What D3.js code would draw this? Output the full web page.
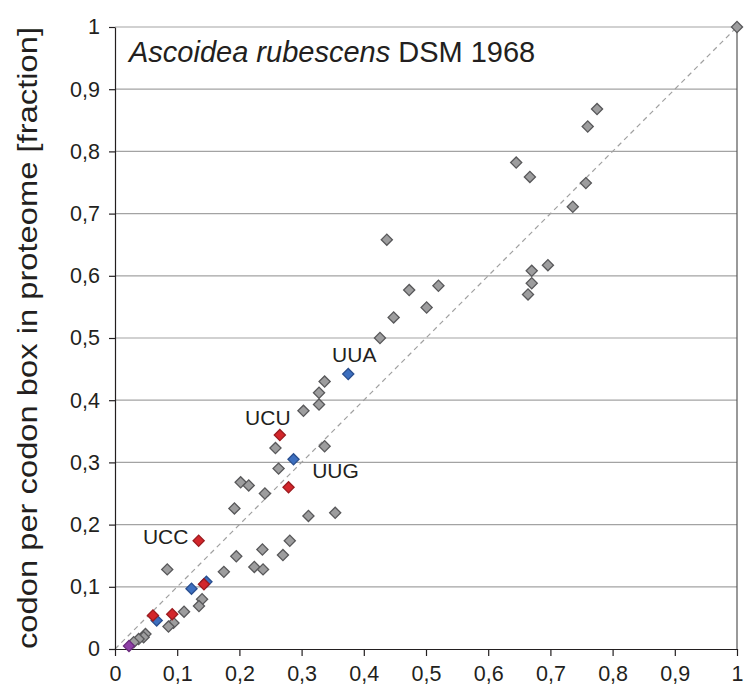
<!DOCTYPE html>
<meta charset="utf-8">
<script src="https://d3js.org/d3.v7.min.js"></script>
<style>
body { margin: 0; background: #fff; }
svg text { font-family: "Liberation Sans", Arial, sans-serif; fill: #231f20; }
.axis path, .axis line { stroke: #231f20; stroke-width: 1.2px; }
.axis text { font-size: 21.5px; }
.grid line { stroke: #a3a3a3; stroke-width: 1.2px; }
.diag { stroke: #a0a0a0; stroke-width: 1.2px; stroke-dasharray: 5 4; fill: none; }
.codonLabel { font-size: 21px; }
</style>
<body>
<script>

// tick labels (decimal comma as in the original)
var tickValues = [0, 0.1, 0.2, 0.3, 0.4, 0.5, 0.6, 0.7, 0.8, 0.9, 1];
var tickLabels = ['0', '0,1', '0,2', '0,3', '0,4', '0,5', '0,6', '0,7', '0,8', '0,9', '1'];

// grey codons: x = fraction in genome, y = fraction in proteome
var greyX = [0.775, 0.760, 0.645, 0.667, 0.757, 0.736, 0.696, 0.670, 0.670, 0.664,
             0.437, 0.473, 0.520, 0.501, 0.448, 0.426, 0.337, 0.328, 0.328, 0.303,
             0.258, 0.337, 0.263, 0.202, 0.215, 0.241, 0.192, 0.354, 0.311, 0.281,
             0.237, 0.195, 0.270, 0.084, 0.175, 0.224, 0.238, 0.140, 0.135, 0.111,
             0.094, 0.086, 0.049, 0.046, 0.038, 0.030, 1.000];
var greyY = [0.868, 0.840, 0.782, 0.759, 0.749, 0.711, 0.617, 0.608, 0.588, 0.570,
             0.658, 0.577, 0.584, 0.549, 0.533, 0.500, 0.430, 0.412, 0.393, 0.383,
             0.323, 0.326, 0.290, 0.268, 0.263, 0.250, 0.226, 0.219, 0.214, 0.174,
             0.160, 0.149, 0.151, 0.128, 0.124, 0.132, 0.128, 0.080, 0.069, 0.060,
             0.042, 0.036, 0.024, 0.019, 0.016, 0.011, 1.000];

// blue codons
var blueX = [0.375, 0.287, 0.123, 0.147, 0.067];
var blueY = [0.442, 0.305, 0.097, 0.108, 0.046];
var blueNames = ['UUA', 'UUG', '', '', ''];

// red codons
var redX = [0.265, 0.279, 0.1345, 0.143, 0.092, 0.061];
var redY = [0.344, 0.260, 0.174, 0.104, 0.056, 0.054];
var redNames = ['UCU', '', 'UCC', '', '', ''];

// purple codon
var purpleX = [0.0225];
var purpleY = [0.005];

var margin = {top: 27, right: 7, bottom: 45, left: 115};
var width = 744 - margin.left - margin.right,
    height = 694 - margin.top - margin.bottom;

var svg = d3.select('body').append('svg')
    .attr('width', 744)
    .attr('height', 694)
  .append('g')
    .attr('transform', 'translate(' + margin.left + ',' + margin.top + ')');

var xScale = d3.scaleLinear().domain([0, 1]).range([0, width]);
var yScale = d3.scaleLinear().domain([0, 1]).range([height, 0]);

function fmt(d) { return tickLabels[tickValues.indexOf(d)]; }

// horizontal grid
svg.append('g')
    .attr('class', 'grid')
  .selectAll('line')
  .data(tickValues.slice(1))
  .enter().append('line')
    .attr('x1', 0)
    .attr('x2', width)
    .attr('y1', function(d) { return yScale(d); })
    .attr('y2', function(d) { return yScale(d); });

// right frame line
svg.append('line')
    .attr('x1', width).attr('x2', width)
    .attr('y1', 0).attr('y2', height)
    .style('stroke', '#555')
    .style('stroke-width', 1.2);

// 1:1 diagonal
svg.append('line')
    .attr('class', 'diag')
    .attr('x1', xScale(0)).attr('y1', yScale(0))
    .attr('x2', xScale(1)).attr('y2', yScale(1));

var xAxis = d3.axisBottom(xScale)
    .tickValues(tickValues)
    .tickFormat(fmt)
    .tickSizeInner(7)
    .tickSizeOuter(0)
    .tickPadding(10);

var yAxis = d3.axisLeft(yScale)
    .tickValues(tickValues)
    .tickFormat(fmt)
    .tickSizeInner(6)
    .tickSizeOuter(0)
    .tickPadding(9);

svg.append('g')
    .attr('class', 'x axis')
    .attr('transform', 'translate(0,' + height + ')')
    .call(xAxis);

svg.append('g')
    .attr('class', 'y axis')
    .call(yAxis);

svg.selectAll('.axis text').style('fill', '#231f20');

// axis title
svg.append('text')
    .attr('transform', 'translate(' + (-margin.left + 37) + ',' + (height / 2) + ') rotate(-90)')
    .attr('text-anchor', 'middle')
    .attr('textLength', 622)
    .attr('lengthAdjust', 'spacingAndGlyphs')
    .style('font-size', '28px')
    .text('codon per codon box in proteome [fraction]');

// chart title
var title = svg.append('text')
    .attr('x', 14)
    .attr('y', 35)
    .style('font-size', '29px');
title.append('tspan').style('font-style', 'italic').text('Ascoidea rubescens');
title.append('tspan').text(' DSM 1968');

var diamond = d3.symbol().type(d3.symbolSquare).size(62);

function drawPoints(xs, ys, fill, stroke) {
  svg.append('g')
    .selectAll('path')
    .data(xs.map(function(x, i) { return {x: x, y: ys[i]}; }))
    .enter().append('path')
      .attr('d', diamond)
      .attr('transform', function(d) {
        return 'translate(' + xScale(d.x) + ',' + yScale(d.y) + ') rotate(45)';
      })
      .style('fill', fill)
      .style('stroke', stroke)
      .style('stroke-width', 1.3);
}

drawPoints(greyX, greyY, '#9d9d9e', '#58585a');
drawPoints(blueX, blueY, '#3d6fbf', '#2a4f8f');
drawPoints(redX, redY, '#d3262b', '#9b1b1f');
drawPoints(purpleX, purpleY, '#8e3fa6', '#6a2c7d');

// codon labels, offset from their point
var labelOffset = {UUA: [6, -12], UUG: [42, 19], UCU: [-12, -10], UCC: [-33, 3]};

function drawLabels(xs, ys, names) {
  names.forEach(function(n, i) {
    if (!n) return;
    svg.append('text')
      .attr('class', 'codonLabel')
      .attr('text-anchor', 'middle')
      .attr('x', xScale(xs[i]) + labelOffset[n][0])
      .attr('y', yScale(ys[i]) + labelOffset[n][1])
      .text(n);
  });
}

drawLabels(blueX, blueY, blueNames);
drawLabels(redX, redY, redNames);

</script>
</body>
